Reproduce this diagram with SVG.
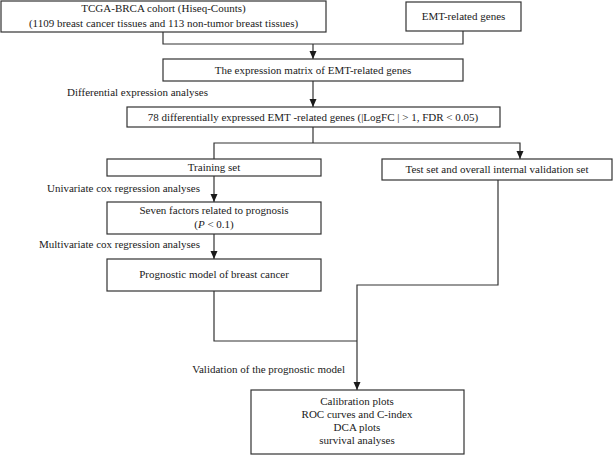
<svg xmlns="http://www.w3.org/2000/svg" width="614" height="455" viewBox="0 0 614 455">
<defs>
<marker id="ah" markerUnits="userSpaceOnUse" markerWidth="8" markerHeight="8" refX="8" refY="3.5" orient="auto">
<path d="M0,0 L8,3.5 L0,7 z" fill="#1a1a1a"/>
</marker>
<style>
.box{fill:#fff;stroke:#333;stroke-width:1.2}
.t{font-family:"Liberation Serif","Times New Roman",serif;font-size:11px;fill:#1a1a1a}
.m{text-anchor:middle}
.c{fill:none;stroke:#333;stroke-width:1.2}
</style>
</defs>
<rect width="614" height="455" fill="#fff"/>
<g id="connectors">
<path class="c" d="M163,32 V44 H463 V31"/>
<path class="c" d="M313,44 V59" marker-end="url(#ah)"/>
<path class="c" d="M313,81 V107" marker-end="url(#ah)"/>
<path class="c" d="M313,127 V143"/>
<path class="c" d="M214,159 V143 H520 V159" marker-end="url(#ah)"/>
<path class="c" d="M214,176 V202" marker-end="url(#ah)"/>
<path class="c" d="M214,234 V259" marker-end="url(#ah)"/>
<path class="c" d="M214,291 V341 H357"/>
<path class="c" d="M498,180 V285 H357 V390" marker-end="url(#ah)"/>
</g>
<g id="labels">
<text class="t" x="67" y="96">Differential expression analyses</text>
<text class="t" x="200" y="192" text-anchor="end">Univariate cox regression analyses</text>
<text class="t" x="200" y="248" text-anchor="end">Multivariate cox regression analyses</text>
<text class="t" x="345" y="373" text-anchor="end">Validation of the prognostic model</text>
</g>
<g id="tcga">
<rect class="box" x="1" y="1" width="325" height="31"/>
<text class="t m" x="163.5" y="12">TCGA-BRCA cohort (Hiseq-Counts)</text>
<text class="t m" x="163.5" y="27">(1109 breast cancer tissues and 113 non-tumor breast tissues)</text>
</g>
<g id="emt">
<rect class="box" x="406" y="2" width="115" height="29"/>
<text class="t m" x="463.5" y="20">EMT-related genes</text>
</g>
<g id="matrix">
<rect class="box" x="163" y="59" width="300" height="22"/>
<text class="t m" x="313" y="74">The expression matrix of EMT-related genes</text>
</g>
<g id="deg">
<rect class="box" x="127" y="107" width="373" height="20"/>
<text class="t m" x="313" y="121">78 differentially expressed EMT -related genes (|LogFC | &gt; 1, FDR &lt; 0.05)</text>
</g>
<g id="training">
<rect class="box" x="107" y="159" width="214" height="17"/>
<text class="t m" x="214" y="171">Training set</text>
</g>
<g id="test">
<rect class="box" x="382" y="159" width="230" height="21"/>
<text class="t m" x="497" y="173">Test set and overall internal validation set</text>
</g>
<g id="seven">
<rect class="box" x="107" y="202" width="214" height="32"/>
<text class="t m" x="214" y="214">Seven factors related to prognosis</text>
<text class="t m" x="214" y="228">(<tspan font-style="italic">P</tspan> &lt; 0.1)</text>
</g>
<g id="model">
<rect class="box" x="107" y="259" width="214" height="32"/>
<text class="t m" x="214" y="278">Prognostic model of breast cancer</text>
</g>
<g id="validation">
<rect class="box" x="251" y="390" width="213" height="64"/>
<text class="t m" x="357" y="405">Calibration plots</text>
<text class="t m" x="357" y="418">ROC curves and C-index</text>
<text class="t m" x="357" y="431">DCA plots</text>
<text class="t m" x="357" y="444">survival analyses</text>
</g>
</svg>
